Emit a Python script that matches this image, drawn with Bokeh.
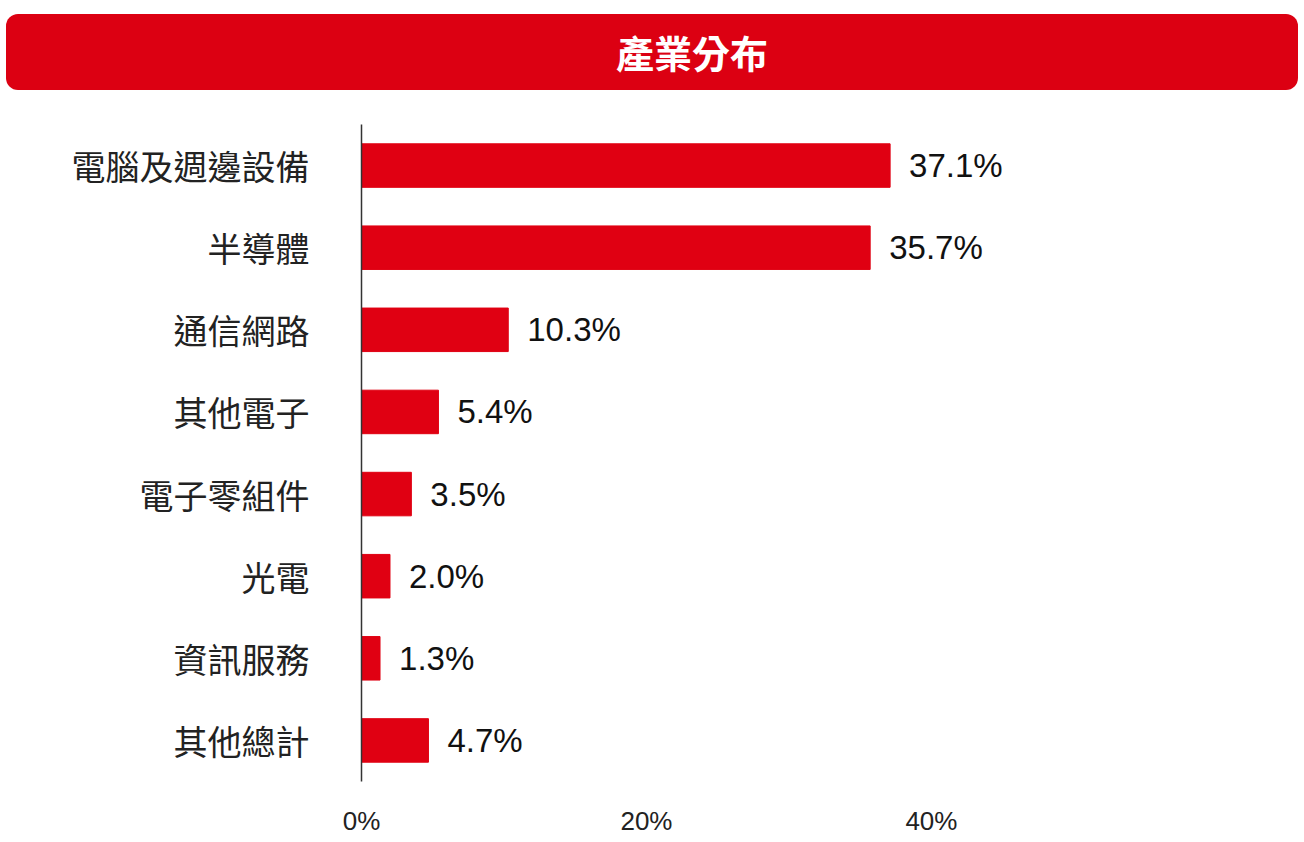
from bokeh.plotting import figure
from bokeh.models import ColumnDataSource, FactorRange, Range1d, FixedTicker, CustomJSTickFormatter, Div
from bokeh.layouts import column
from bokeh.core.properties import value
from bokeh.embed import file_html
from bokeh.resources import INLINE

title = "產業分布"
categories = ["電腦及週邊設備", "半導體", "通信網路", "其他電子", "電子零組件", "光電", "資訊服務", "其他總計"]
values = [37.1, 35.7, 10.3, 5.4, 3.5, 2.0, 1.3, 4.7]
ticks = [0, 20, 40]

RED = "#E00012"

# ---- header banner ----
header = Div(
    text=('<div style="width:1292px;height:76px;background:#DC0012;border-radius:12px;'
          'color:#ffffff;font-family:\'Noto Sans CJK TC\';font-weight:bold;font-size:38px;'
          'line-height:76px;text-align:center;box-sizing:border-box;padding-left:80px;">'
          + title + '</div>'),
    width=1292, height=76, margin=(14, 6, 10, 6))

# ---- bar chart ----
src = ColumnDataSource(dict(cat=categories, val=values, lab=[f"{v:.1f}%" for v in values]))
p = figure(width=1304, height=742, y_range=FactorRange(*reversed(categories), range_padding=0),
           x_range=Range1d(0, 65.2), output_backend="svg", toolbar_location=None,
           min_border_left=361, min_border_right=14, min_border_top=24, min_border_bottom=61)
p.hbar(y="cat", right="val", left=0, height=0.53, color=RED, source=src)
p.text(x="val", y="cat", text="lab", source=src, x_offset=19, text_baseline="middle",
       text_font=value("Liberation Sans"), text_font_size="33px", text_color="#111111")

p.grid.visible = False
p.outline_line_color = None

p.yaxis.axis_line_color = "#333333"
p.yaxis.axis_line_width = 1.5
p.yaxis.major_tick_line_color = None
p.yaxis.minor_tick_line_color = None
p.yaxis.major_label_standoff = 46
p.yaxis.major_label_text_font = "Noto Sans CJK TC"
p.yaxis.major_label_text_font_size = "34px"
p.yaxis.major_label_text_color = "#222222"

p.xaxis.axis_line_color = None
p.xaxis.major_tick_line_color = None
p.xaxis.minor_tick_line_color = None
p.xaxis.ticker = FixedTicker(ticks=ticks)
p.xaxis.formatter = CustomJSTickFormatter(code="return tick + '%';")
p.xaxis.major_label_standoff = 18
p.xaxis.major_label_text_font = "Liberation Sans"
p.xaxis.major_label_text_font_size = "26px"
p.xaxis.major_label_text_color = "#222222"

layout = column(header, p, spacing=0)
open("out.html", "w").write(file_html(layout, INLINE))
